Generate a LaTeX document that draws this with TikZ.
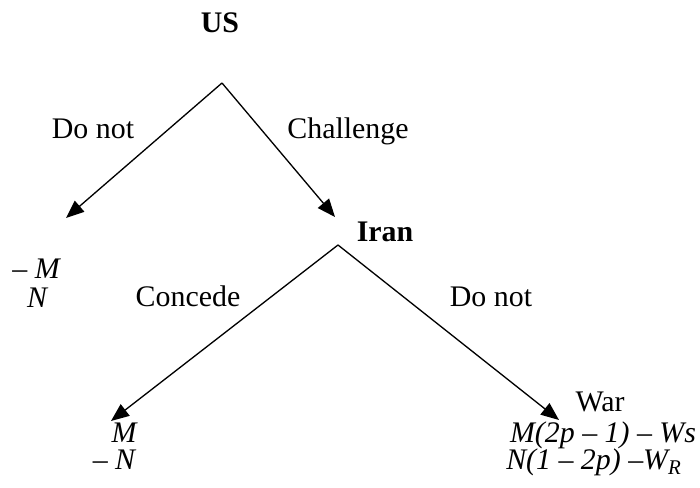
\documentclass[tikz,border=0pt]{standalone}
\usepackage{fontspec}
\setmainfont{Liberation Serif}
\usetikzlibrary{arrows.meta}
\begin{document}
\begin{tikzpicture}[
    branch/.style={line width=0.75pt,-{Triangle[length=0.36cm,width=0.29cm]}},
    player/.style={anchor=base,inner sep=0pt,font=\fontsize{17}{20}\selectfont\bfseries},
    move/.style={anchor=base,inner sep=0pt,font=\fontsize{17}{20}\selectfont},
    payoff/.style={anchor=base,inner sep=0pt,font=\fontsize{17}{20}\selectfont\itshape}]
    \useasboundingbox (0,0) rectangle (14,9.76);
    % players and decision points
    \node[player] (us) at (4.40,9.10) {US};
    \coordinate (usroot) at (4.44,8.10);
    \coordinate (usout) at (1.32,5.40);
    \node[player] (iran) at (7.70,4.92) {Iran};
    \coordinate (iranin) at (6.70,5.42);
    \coordinate (iranroot) at (6.76,4.86);
    \coordinate (concout) at (2.22,1.34);
    \coordinate (warout) at (11.18,1.36);
    % branches
    \draw[branch] (usroot) -- (usout);
    \draw[branch] (usroot) -- (iranin);
    \draw[branch] (iranroot) -- (concout);
    \draw[branch] (iranroot) -- (warout);
    % moves
    \node[move] (usnot) at (1.86,6.98) {Do not};
    \node[move] (uschal) at (6.96,6.98) {Challenge};
    \node[move] (irconc) at (3.76,3.62) {Concede};
    \node[move] (irnot) at (9.82,3.62) {Do not};
    \node[move] (war) at (12.0,1.52) {War};
    % payoffs
    \node[payoff] (pa1) at (0.72,4.18) {– M};
    \node[payoff] (pa2) at (0.74,3.60) {N};
    \node[payoff] (pb1) at (2.48,0.90) {M};
    \node[payoff] (pb2) at (2.28,0.36) {– N};
    \node[payoff] (pc1) at (12.06,0.90) {M(2p – 1) – Ws};
    \node[payoff] (pc2) at (11.88,0.36) {N(1 – 2p) –W\textsubscript{R}};
\end{tikzpicture}
\end{document}
